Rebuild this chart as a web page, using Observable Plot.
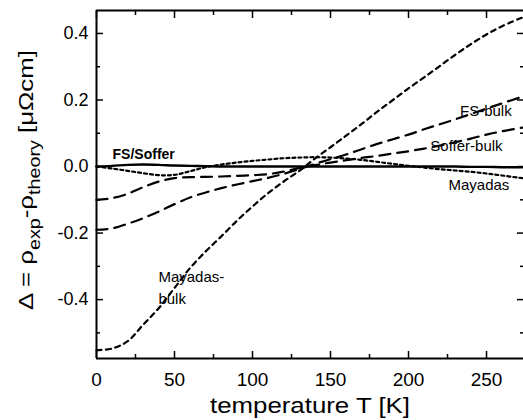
<!DOCTYPE html>
<html><head><meta charset="utf-8">
<script src="https://cdn.jsdelivr.net/npm/d3@7"></script>
<script src="https://cdn.jsdelivr.net/npm/@observablehq/plot@0.6"></script>
<style>
body{margin:0;background:#fff}
svg{font-family:"Liberation Sans",Arial,sans-serif}
</style>
</head><body><div id="chart"></div>
<script>
// temperature grid [K]
const temps = [0,10,20,30,40,50,60,70,80,90,100,110,120,130,140,150,160,170,180,190,200,210,220,230,240,250,260,273];
// Δ = ρexp − ρtheory [µΩcm]
const fsSoffer    = [0,0.002,0.005,0.006,0.005,0.003,0.002,0.001,0,0,0,0,0,0,0,0,0,0,0,0,0,0,0,0,-0.001,-0.001,-0.002,-0.002];
const mayadas     = [0,-0.006,-0.013,-0.02,-0.026,-0.025,-0.014,-0.002,0.006,0.012,0.017,0.021,0.025,0.027,0.028,0.027,0.024,0.02,0.014,0.008,0.002,-0.003,-0.008,-0.012,-0.016,-0.021,-0.027,-0.035];
const sofferBulk  = [-0.1,-0.095,-0.082,-0.062,-0.045,-0.035,-0.032,-0.031,-0.03,-0.028,-0.026,-0.023,-0.015,-0.005,0.004,0.012,0.019,0.026,0.032,0.039,0.046,0.054,0.063,0.073,0.084,0.096,0.106,0.117];
const fsBulk      = [-0.19,-0.186,-0.172,-0.155,-0.135,-0.113,-0.093,-0.078,-0.065,-0.054,-0.044,-0.034,-0.022,-0.008,0.008,0.022,0.036,0.052,0.068,0.082,0.096,0.112,0.127,0.142,0.158,0.174,0.19,0.21];
const mayadasBulk = [-0.552,-0.547,-0.525,-0.475,-0.425,-0.365,-0.305,-0.255,-0.21,-0.163,-0.12,-0.08,-0.045,-0.013,0.024,0.058,0.093,0.128,0.165,0.2,0.235,0.268,0.302,0.336,0.368,0.397,0.422,0.448];

// axis ticks
const xMajor = [0,50,100,150,200,250];
const xMinor = [25,75,125,175,225,275];
const yMajor = [-0.4,-0.2,0,0.2,0.4];
const yMinor = [-0.5,-0.3,-0.1,0.1,0.3];

// curve labels (anchor in data units)
const labelText = ["FS/Soffer","FS-bulk","Soffer-bulk","Mayadas","Mayadas-\nbulk"];
const labelT    = [10.3, 233, 214, 225.6, 39.7];
const labelV    = [0.036, 0.172, 0.068, -0.05, -0.36];
const labelBold = [true,false,false,false,false];

const xDomain = [0, 273.7];
const yDomain = [-0.577, 0.469];

const rows = (vals) => temps.map((t,i)=>({T:t, v:vals[i]}));
const labels = labelText.map((s,i)=>({s, T:labelT[i], v:labelV[i], b:labelBold[i]}));

const lineOpts = {x:"T", y:"v", stroke:"black", strokeWidth:2.2, curve:"catmull-rom"};

const plot = Plot.plot({
  width:523, height:420,
  marginLeft:96, marginRight:0, marginTop:10, marginBottom:62,
  x:{domain:xDomain},
  y:{domain:yDomain},
  style:{fontFamily:"'Liberation Sans', Arial, sans-serif", background:"white", color:"black"},
  marks:[
    Plot.line(rows(mayadasBulk), {...lineOpts, strokeDasharray:"5,4.5"}),
    Plot.line(rows(fsBulk), {...lineOpts, strokeDasharray:"11,7"}),
    Plot.line(rows(sofferBulk), {...lineOpts, strokeDasharray:"11,7"}),
    Plot.line(rows(mayadas), {...lineOpts, strokeDasharray:"3,3"}),
    Plot.line(rows(fsSoffer), {...lineOpts, strokeWidth:2.4}),
    Plot.text(labels.filter(d=>d.b), {x:"T", y:"v", text:"s", textAnchor:"start", fontSize:14, fontWeight:"bold"}),
    Plot.text(labels.filter(d=>!d.b), {x:"T", y:"v", text:"s", textAnchor:"start", fontSize:15, lineHeight:1.45}),
    Plot.axisX({ticks:xMajor, tickSize:-7, tickPadding:21, tickFormat:d=>String(d), fontSize:19, strokeWidth:1.5, label:null}),
    Plot.axisX({ticks:xMinor, tickSize:-4, fill:"none", strokeWidth:1.5, label:null}),
    Plot.axisX({anchor:"top", ticks:xMajor, tickSize:-7, fill:"none", strokeWidth:1.5, label:null}),
    Plot.axisX({anchor:"top", ticks:xMinor, tickSize:-4, fill:"none", strokeWidth:1.5, label:null}),
    Plot.axisY({ticks:yMajor, tickSize:-7, tickPadding:15, tickFormat:d=>d.toFixed(1), fontSize:18, strokeWidth:1.5, label:null}),
    Plot.axisY({ticks:yMinor, tickSize:-4, fill:"none", strokeWidth:1.5, label:null}),
    Plot.axisY({anchor:"right", ticks:yMajor, tickSize:-7, fill:"none", strokeWidth:1.5, label:null}),
    Plot.axisY({anchor:"right", ticks:yMinor, tickSize:-4, fill:"none", strokeWidth:1.5, label:null}),
    Plot.ruleX([xDomain[0]], {strokeWidth:2}),
    Plot.ruleY(yDomain, {strokeWidth:2})
  ]
});
document.getElementById("chart").appendChild(plot);

const svg = d3.select(plot);
// x title
svg.append("text")
  .attr("x", 310).attr("y", 413)
  .attr("text-anchor","middle").attr("font-size",22)
  .attr("textLength",200).attr("lengthAdjust","spacingAndGlyphs")
  .attr("fill","black")
  .text("temperature T [K]");
// y title with subscripts
const yt = svg.append("text")
  .attr("transform","translate(33,180) rotate(-90)")
  .attr("text-anchor","middle").attr("font-size",21)
  .attr("textLength",260).attr("lengthAdjust","spacingAndGlyphs")
  .attr("fill","black");
yt.append("tspan").text("Δ = ρ");
yt.append("tspan").attr("font-size",16).attr("dy",7).text("exp");
yt.append("tspan").attr("dy",-7).text("-ρ");
yt.append("tspan").attr("font-size",16).attr("dy",7).text("theory");
yt.append("tspan").attr("dy",-7).text(" [μΩcm]");
</script>
</body></html>
